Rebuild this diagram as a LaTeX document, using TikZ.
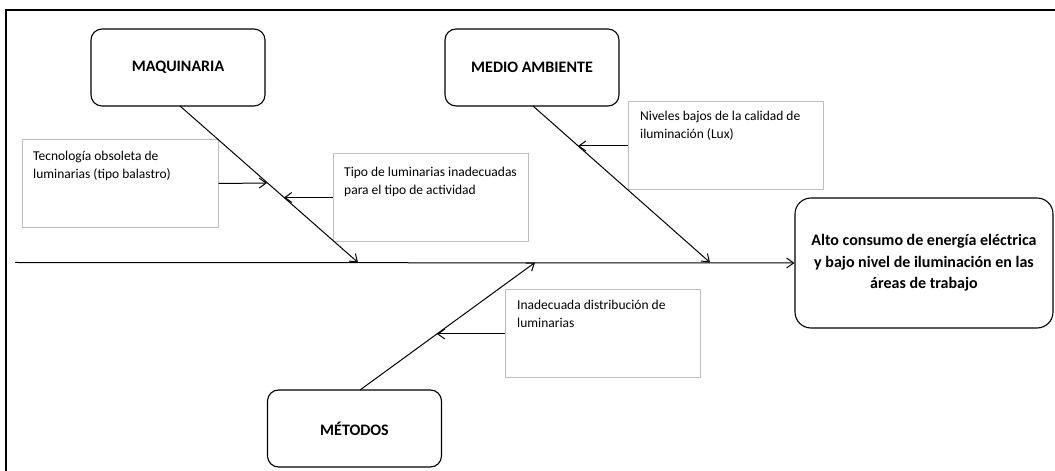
\documentclass[tikz,border=0pt]{standalone}
\usepackage{fontspec}
\setmainfont{Carlito}
\usetikzlibrary{arrows.meta,calc}
\begin{document}
\begin{tikzpicture}[x=1bp,y=-1bp,
  headbox/.style={draw=black,line width=1.1bp,rounded corners=11bp,inner sep=0pt,
    minimum width=174bp,minimum height=77bp,font=\fontsize{16bp}{21.7bp}\selectfont\bfseries},
  causebox/.style={draw=black!25,line width=1bp,inner sep=0pt,minimum width=195bp,minimum height=88bp},
  causetext/.style={anchor=base west,inner sep=0pt,align=left,font=\fontsize{13.5bp}{18bp}\selectfont},
  bone/.style={draw=black,line width=1bp,-{Straight Barb[length=7bp,width=10bp,line width=1bp]}},
  frame/.style={draw=black,line width=1.3bp}]
\useasboundingbox (0,0) rectangle (1055,471);
% frame
\draw[frame] (6,471) -- (6,10) -- (1055,10);
% head boxes
\node[headbox] (maq) at (178,67.5) {MAQUINARIA};
\node[headbox] (med) at (532,67.5) {MEDIO AMBIENTE};
\node[headbox] (met) at (354.5,428.5) {MÉTODOS};
\node[headbox,minimum width=258bp,minimum height=130bp,rounded corners=16bp,align=center] (efecto) at (924,263)
  {Alto consumo de energía eléctrica\\y bajo nivel de iluminación en las\\áreas de trabajo};
% cause boxes
\node[causebox] (c1) at (120.5,183.5) {};
\node[causebox] (c2) at (430.5,197.5) {};
\node[causebox] (c3) at (725.5,146) {};
\node[causebox] (c4) at (602.5,334) {};
\node[causetext] (t1) at (33,179) {Tecnología obsoleta de\\luminarias (tipo balastro)};
\node[causetext] (t2) at (344,195) {Tipo de luminarias inadecuadas\\para el tipo de actividad};
\node[causetext] (t3) at (640,139) {Niveles bajos de la calidad de\\iluminación (Lux)};
\node[causetext] (t4) at (517,328) {Inadecuada distribución de\\luminarias};
% spine
\coordinate (tail) at (15,262.5);
\coordinate (s1) at (358,262.5);
\coordinate (s2) at (710,262.5);
\coordinate (s3) at (535,262.5);
\draw[bone] (tail) -- (efecto.west);
% main bones
\coordinate (m0) at (180,106);
\coordinate (e0) at (533,106);
\coordinate (d0) at (360,390);
\draw[bone] (m0) -- (s1);
\draw[bone] (e0) -- (s2);
\draw[bone] (d0) -- (s3);
% cause arrows
\coordinate (a1) at (267,183);
\coordinate (a2) at (284,197.5);
\coordinate (a3) at (578,146);
\coordinate (a4) at (437,334);
\draw[bone] (c1.east) -- (a1);
\draw[bone] (c2.west) -- (a2);
\draw[bone] (c3.west) -- (a3);
\draw[bone] (c4.west) -- (a4);
\end{tikzpicture}
\end{document}
